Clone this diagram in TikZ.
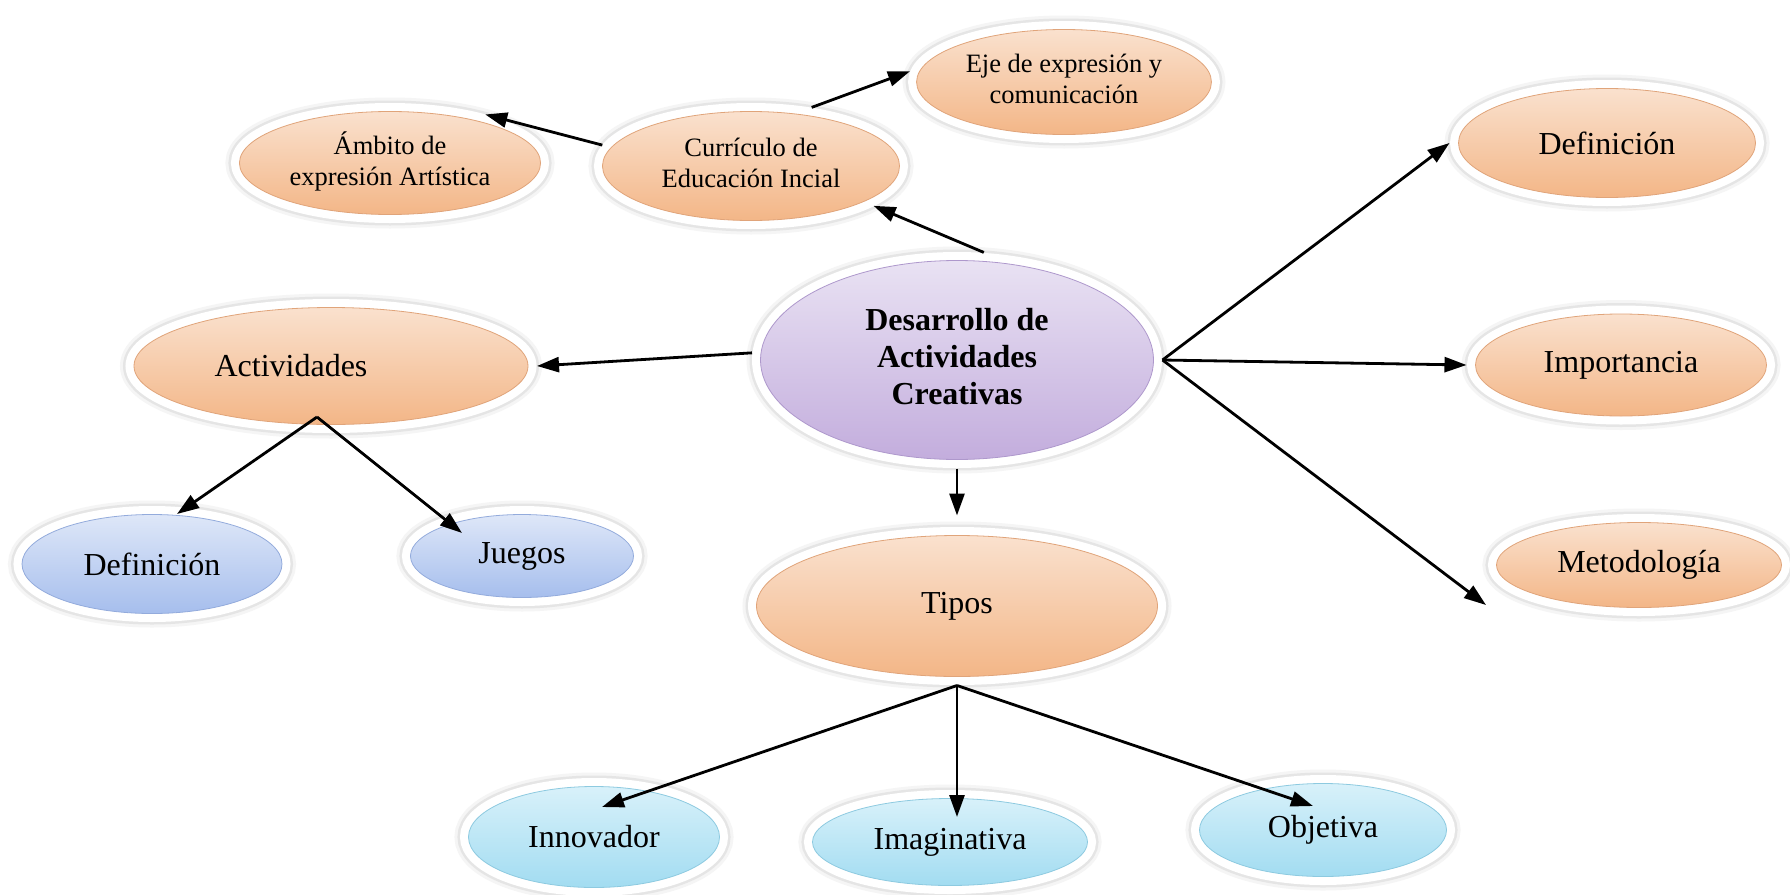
\documentclass[tikz,border=0pt]{standalone}
\usepackage{fontspec}
\setmainfont{Liberation Serif}
\usepackage{tikz}
\usetikzlibrary{shapes.geometric, arrows.meta}

\definecolor{NaranjaArriba}{HTML}{FAE1CE}
\definecolor{NaranjaAbajo}{HTML}{F3B687}
\definecolor{NaranjaBorde}{HTML}{E0A47A}
\definecolor{MoradoArriba}{HTML}{E9E2F3}
\definecolor{MoradoAbajo}{HTML}{C3ADDD}
\definecolor{MoradoBorde}{HTML}{AE98CC}
\definecolor{AzulArriba}{HTML}{DEE7F8}
\definecolor{AzulAbajo}{HTML}{A6BEED}
\definecolor{AzulBorde}{HTML}{93ABDC}
\definecolor{CelesteArriba}{HTML}{D8F1FA}
\definecolor{CelesteAbajo}{HTML}{A2DCF1}
\definecolor{CelesteBorde}{HTML}{8DCAE0}

\begin{document}
\begin{tikzpicture}[x=1pt, y=-1pt,
    burbuja/.style={ellipse, inner sep=0pt, outer sep=9pt, line width=0.8pt,
      font=\fontsize{32}{37}\selectfont,
      preaction={draw=black!4, line width=28pt},
      preaction={draw=black!10, line width=22pt},
      preaction={draw=white, line width=17pt}},
    tam/.style 2 args={minimum width=#1pt, minimum height=#2pt},
    naranja/.style={burbuja, draw=NaranjaBorde, top color=NaranjaArriba, bottom color=NaranjaAbajo},
    morado/.style={burbuja, draw=MoradoBorde, top color=MoradoArriba, bottom color=MoradoAbajo},
    azul/.style={burbuja, draw=AzulBorde, top color=AzulArriba, bottom color=AzulAbajo},
    celeste/.style={burbuja, draw=CelesteBorde, top color=CelesteArriba, bottom color=CelesteAbajo},
    chica/.style={font=\fontsize{26.5}{31}\selectfont},
    flecha/.style={-{Triangle[length=22pt, width=15pt]}, line width=2.8pt}]

  \fill[white] (0,0) rectangle (1790,894);
  \useasboundingbox (0,0) rectangle (1790,894);

  % centro
  \node (des) [morado, tam={393}{199}] at (957, 360) {
    \begin{tabular}{c}
      \bfseries Desarrollo de \\
      \bfseries Actividades \\
      \bfseries Creativas
    \end{tabular}
  };

  % arriba
  \node (cur) [naranja, chica, tam={297}{109}] at (751, 166) {
    \begin{tabular}{c}
      Currículo de \\
      Educación Incial
    \end{tabular}
  };
  \node (eje) [naranja, chica, tam={293}{105}] at (1064, 82) {
    \begin{tabular}{c}
      Eje de expresión y \\
      comunicación
    \end{tabular}
  };
  \node (amb) [naranja, chica, tam={295}{103}] at (390, 163) {
    \begin{tabular}{c}
      Ámbito de \\
      expresión Artística
    \end{tabular}
  };

  % derecha
  \node (defr) [naranja, tam={297}{109}] at (1607, 143) {Definición};
  \node (imp) [naranja, tam={291}{102}] at (1621, 365) {Importancia};
  \node (met) [naranja, tam={285}{85}] at (1639, 565) {Metodología};

  % izquierda
  \node (act) [naranja, tam={394}{117}] at (331, 366) {Actividades\hspace*{80pt}};
  \node (defl) [azul, tam={260}{99}] at (152, 564) {Definición};
  \node (jue) [azul, tam={223}{83}] at (522, 556) {Juegos};
  \coordinate (actfork) at ([shift={(-14,51)}]act.center);

  % abajo
  \node (tip) [naranja, tam={401}{141}] at (957, 606) {Tipos};
  \node (inn) [celeste, tam={251}{101}] at (594, 837) {Innovador};
  \node (ima) [celeste, tam={275}{87}] at (950, 842) {Imaginativa};
  \node (obj) [celeste, tam={247}{93}] at (1323, 830) {Objetiva};

  % flechas
  \draw[flecha] (des.76) -- (cur.-18);
  \draw[flecha] (cur.172) -- (amb.27);
  \draw[flecha] (cur.44) -- (eje.176);
  \draw[flecha] (des.178) -- (act.east);
  \draw[flecha] (actfork) -- ([shift={(25,-50)}]defl.center);
  \draw[flecha] (actfork) -- ([shift={(-60,-23)}]jue.center);
  \draw[flecha] (des.east) -- (defr.west);
  \draw[flecha] (des.east) -- (imp.west);
  \draw[flecha] (des.east) -- ([shift={(-153,40)}]met.center);
  \draw[flecha] (des.south) -- ([yshift=11pt]tip.north);
  \draw[flecha] (tip.south) -- ([shift={(8,-30)}]inn.center);
  \draw[flecha] (tip.south) -- ([shift={(7,-25)}]ima.center);
  \draw[flecha] (tip.south) -- ([shift={(-10,-24)}]obj.center);
\end{tikzpicture}
\end{document}
